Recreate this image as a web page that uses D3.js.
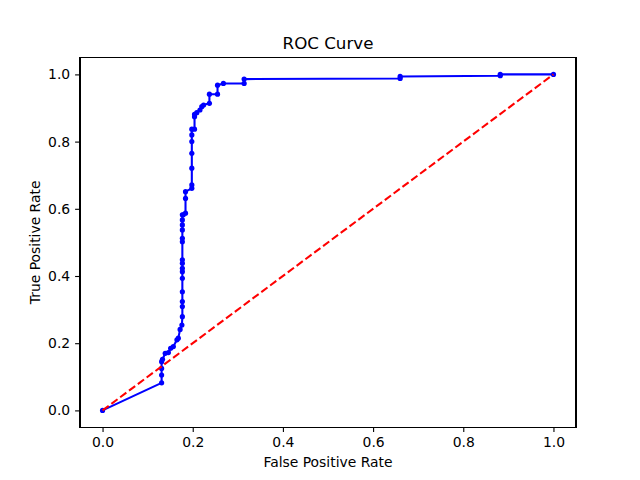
<!DOCTYPE html>
<html>
<head>
<meta charset="utf-8">
<script src="https://cdn.jsdelivr.net/npm/d3@7"></script>
<style>
  body { margin: 0; background: #fff; }
  svg { display: block; font-family: "DejaVu Sans", sans-serif; }
</style>
</head>
<body>
<div class="roc-chart"></div>
<script>
// values
const fpr = [0, 0.131, 0.131, 0.131, 0.131, 0.133, 0.139, 0.146, 0.151, 0.157, 0.165, 0.168, 0.172, 0.176,
  0.177, 0.177, 0.177, 0.177, 0.177, 0.177, 0.177, 0.177, 0.177, 0.177, 0.177, 0.177, 0.177, 0.177, 0.177,
  0.179, 0.184, 0.184, 0.184, 0.198, 0.198, 0.198, 0.198, 0.198, 0.198, 0.198, 0.204, 0.204, 0.204,
  0.209, 0.216, 0.220, 0.224, 0.237, 0.237, 0.255, 0.255, 0.268, 0.314, 0.314, 0.660, 0.660, 0.882, 0.882, 1.0];
const tpr = [0, 0.082, 0.105, 0.125, 0.145, 0.152, 0.170, 0.172, 0.185, 0.190, 0.210, 0.215, 0.241, 0.254,
  0.279, 0.309, 0.324, 0.353, 0.393, 0.413, 0.423, 0.438, 0.448, 0.502, 0.512, 0.537, 0.552, 0.567, 0.582,
  0.582, 0.587, 0.631, 0.651, 0.661, 0.671, 0.721, 0.765, 0.800, 0.820, 0.837, 0.837, 0.874, 0.881,
  0.886, 0.894, 0.904, 0.909, 0.914, 0.941, 0.941, 0.968, 0.973, 0.973, 0.986, 0.988, 0.994, 0.996, 1.0, 1.0];
const chance = [0, 1];
const ticks = [0, 0.2, 0.4, 0.6, 0.8, 1.0];

const width = 640, height = 480;
const margin = { left: 80, right: 64, top: 57.6, bottom: 52.8 };

const svg = d3.select('.roc-chart')
  .append('svg')
  .attr('width', width)
  .attr('height', height);

const x = d3.scaleLinear()
  .domain([-0.05, 1.05])
  .range([margin.left, width - margin.right]);

const y = d3.scaleLinear()
  .domain([-0.05, 1.05])
  .range([height - margin.bottom, margin.top]);

const points = fpr.map((d, i) => [d, tpr[i]]);

// curve
svg.append('path')
  .datum(points)
  .attr('fill', 'none')
  .attr('stroke', '#0000ff')
  .attr('stroke-width', 2.08)
  .attr('stroke-linejoin', 'round')
  .attr('d', d3.line().x(d => x(d[0])).y(d => y(d[1])));

svg.append('g')
  .selectAll('circle')
  .data(points)
  .enter()
  .append('circle')
  .attr('cx', d => x(d[0]))
  .attr('cy', d => y(d[1]))
  .attr('r', 2.6)
  .attr('fill', '#0000ff');

// chance line
svg.append('path')
  .datum(chance)
  .attr('fill', 'none')
  .attr('stroke', '#ff0000')
  .attr('stroke-width', 2.08)
  .attr('stroke-dasharray', '7.7,3.3')
  .attr('d', d3.line().x(d => x(d)).y(d => y(d)));

// axes
const xAxis = svg.append('g')
  .attr('transform', `translate(0,${height - margin.bottom})`)
  .call(d3.axisBottom(x).tickValues(ticks).tickFormat(d3.format('.1f')).tickSize(4.9).tickPadding(4.9));

const yAxis = svg.append('g')
  .attr('transform', `translate(${margin.left},0)`)
  .call(d3.axisLeft(y).tickValues(ticks).tickFormat(d3.format('.1f')).tickSize(4.9).tickPadding(4.9));

[xAxis, yAxis].forEach(a => {
  a.select('.domain').remove();
  a.selectAll('line').attr('stroke', '#000').attr('stroke-width', 1.1);
  a.selectAll('text').attr('font-size', 13.9).attr('fill', '#000')
    .attr('font-family', '"DejaVu Sans", sans-serif');
});

svg.append('rect')
  .attr('x', margin.left)
  .attr('y', margin.top)
  .attr('width', width - margin.left - margin.right)
  .attr('height', height - margin.top - margin.bottom)
  .attr('fill', 'none')
  .attr('stroke', '#000')
  .attr('stroke-width', 1.1)
  .attr('shape-rendering', 'crispEdges');

// labels
svg.append('text')
  .attr('x', (margin.left + width - margin.right) / 2)
  .attr('y', margin.top - 8.3)
  .attr('text-anchor', 'middle')
  .attr('font-size', 16.7)
  .text('ROC Curve');

svg.append('text')
  .attr('x', (margin.left + width - margin.right) / 2)
  .attr('y', 467)
  .attr('text-anchor', 'middle')
  .attr('font-size', 13.9)
  .text('False Positive Rate');

svg.append('text')
  .attr('transform', `translate(40,${(margin.top + height - margin.bottom) / 2}) rotate(-90)`)
  .attr('text-anchor', 'middle')
  .attr('font-size', 13.9)
  .text('True Positive Rate');
</script>
</body>
</html>
